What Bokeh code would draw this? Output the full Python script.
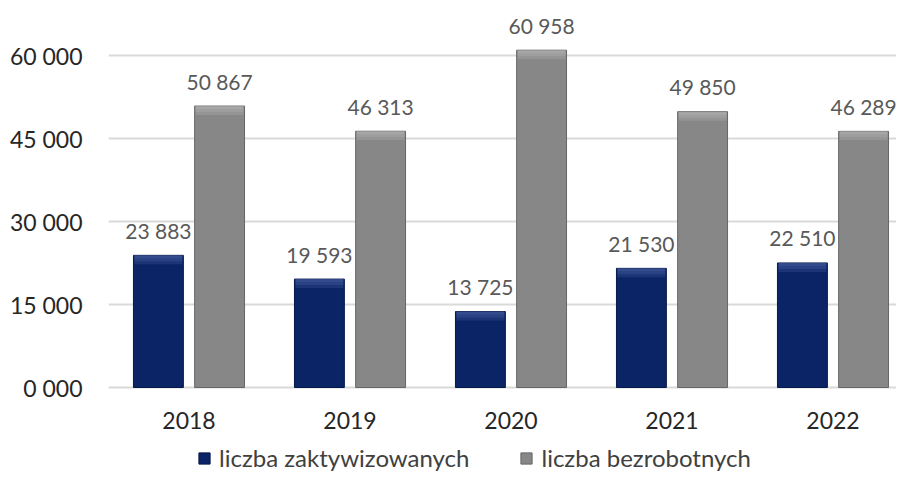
from bokeh.plotting import figure
from bokeh.models import Legend, LegendItem, ColumnDataSource, FixedTicker, Range1d
from bokeh.core.properties import value
from bokeh.embed import file_html
from bokeh.resources import INLINE

years = ["2018", "2019", "2020", "2021", "2022"]
aktywizowani = [23883, 19593, 13725, 21530, 22510]
bezrobotni = [50867, 46313, 60958, 49850, 46289]
tick_values = [0, 15000, 30000, 45000, 60000]
tick_labels = ["0 000", "15 000", "30 000", "45 000", "60 000"]
series_names = ["liczba zaktywizowanych", "liczba bezrobotnych"]

FONT = "Lato"
NAVY = "#0b2466"
NAVY_EDGE = "#05184a"
NAVY_LIGHT = "#5a74b0"
GRAY = "#878787"
GRAY_EDGE = "#666666"
GRAY_LIGHT = "#c4c4c4"

x = list(range(len(years)))
Y_START, Y_END = -15361, 69940
PX = 60000 / 332  # data units per screen pixel
LEFT = 108
CAT_W = 161


def fmt(v):
    return f"{v:,}".replace(",", " ")


def series_source(vals, offset):
    return ColumnDataSource(dict(
        x=[i + offset for i in x],
        top=vals,
        b1=[v - 3 * PX for v in vals],
        b2=[v - 6 * PX for v in vals],
        b3=[v - 9 * PX for v in vals],
        label=[fmt(v) for v in vals],
    ))


src_a = series_source(aktywizowani, -0.19)
src_b = series_source(bezrobotni, 0.19)
src_years = ColumnDataSource(dict(x=x, y=[0] * len(x), text=years))

p = figure(width=896, height=472, output_backend="svg", toolbar_location=None,
           x_range=Range1d(-0.5, -0.5 + (896 - LEFT) / CAT_W),
           y_range=Range1d(Y_START, Y_END), x_axis_location=None,
           min_border_left=LEFT, min_border_right=0, min_border_top=0,
           min_border_bottom=0)
p.outline_line_color = None
p.background_fill_color = "white"
p.border_fill_color = "white"

W = 0.31


def bars(src, fill, edge, light):
    r = p.vbar(x="x", top="top", bottom=0, width=W, source=src,
               fill_color=fill, line_color=edge, line_width=1)
    for b in ("b3", "b2", "b1"):
        p.vbar(x="x", top="top", bottom=b, width=W - 0.012, source=src,
               fill_color=light, fill_alpha=0.22, line_color=None)
    return r


r_a = bars(src_a, NAVY, NAVY_EDGE, NAVY_LIGHT)
r_b = bars(src_b, GRAY, GRAY_EDGE, GRAY_LIGHT)

for src in (src_a, src_b):
    p.text(x="x", y="top", text="label", source=src, y_offset=-25,
           text_align="center", text_baseline="alphabetic",
           text_font=value(FONT), text_font_size="21px", text_color="#595959")

# category labels under the baseline
p.text(x="x", y="y", text="text", source=src_years, y_offset=33,
       text_align="center", text_baseline="alphabetic",
       text_font=value(FONT), text_font_size="23px", text_color="#262626")

# grid
p.xgrid.grid_line_color = None
p.ygrid.ticker = FixedTicker(ticks=tick_values)
p.ygrid.grid_line_color = "#d9d9d9"
p.ygrid.grid_line_width = 2

# y axis
p.yaxis.ticker = FixedTicker(ticks=tick_values)
p.yaxis.major_label_overrides = dict(zip(tick_values, tick_labels))
p.yaxis.axis_line_color = None
p.yaxis.major_tick_line_color = None
p.yaxis.minor_tick_line_color = None
p.yaxis.major_label_standoff = 20
p.yaxis.major_label_text_font = FONT
p.yaxis.major_label_text_font_size = "23px"
p.yaxis.major_label_text_color = "#262626"

legend = Legend(items=[LegendItem(label=series_names[0], renderers=[r_a]),
                       LegendItem(label=series_names[1], renderers=[r_b])],
                orientation="horizontal", location=(89, 0),
                border_line_color=None, background_fill_alpha=0,
                label_text_font=FONT, label_text_font_size="24px",
                label_text_color="#404040",
                glyph_width=14, glyph_height=14, spacing=50, label_standoff=8,
                padding=0, margin=0)
p.add_layout(legend)

open("out.html", "w").write(file_html(p, INLINE))
